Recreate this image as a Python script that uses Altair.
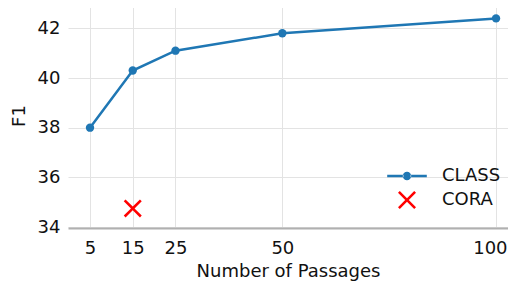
import altair as alt
import pandas as pd

passages = [5, 15, 25, 50, 100]
class_f1 = [38.0, 40.3, 41.1, 41.8, 42.4]
cora_passages = [15]
cora_f1 = [34.75]
series_names = ["CLASS", "CORA"]
series_colors = ["#1f77b4", "#ff0000"]
x_ticks = [5, 15, 25, 50, 100]
y_ticks = [34, 36, 38, 40, 42]

class_df = pd.DataFrame({"passages": passages, "f1": class_f1, "series": ["CLASS"] * len(passages)})
cora_df = pd.DataFrame({"passages": cora_passages, "f1": cora_f1, "series": ["CORA"] * len(cora_passages)})

# filled X glyph and filled "line with dot" glyph (unit box -1..1)
X_POLY = ("M-1,-0.8L-0.8,-1L0,-0.2L0.8,-1L1,-0.8L0.2,0L1,0.8L0.8,1L0,0.2L-0.8,1L-1,0.8L-0.2,0Z")
LINE_DOT = ("M-2.2,-0.14H-0.4V0.14H-2.2Z"
            "M0.4,-0.14H2.2V0.14H0.4Z"
            "M-0.47,0A0.47,0.47 0 1,0 0.47,0A0.47,0.47 0 1,0 -0.47,0Z")
FONT = "DejaVu Sans"
FS = 18

x_enc = alt.X(
    "passages:Q",
    scale=alt.Scale(domain=[-0.15, 102.8], nice=False, zero=False),
    axis=alt.Axis(
        values=x_ticks, title="Number of Passages", grid=True, ticks=False,
        domain=True, domainColor="#b0b0b0", domainWidth=2,
        labelPadding=11, titlePadding=5, labelFlush=15, labelFlushOffset=11,
    ),
)
y_enc = alt.Y(
    "f1:Q",
    scale=alt.Scale(domain=[33.96, 43.02], nice=False, zero=False),
    axis=alt.Axis(
        values=y_ticks, title="F1", grid=True, ticks=False, domain=False,
        labelPadding=8, titlePadding=9,
    ),
)
legend = alt.Legend(
    title=None, orient="none", legendX=330, legendY=164,
    symbolSize=324, labelOffset=26, rowPadding=6, padding=0,
    labelFontSize=FS, labelFont=FONT, labelColor="#111", symbolStrokeWidth=0,
    symbolOpacity=1,
)
color_enc = alt.Color(
    "series:N",
    scale=alt.Scale(domain=series_names, range=series_colors),
    legend=legend,
)
shape_enc = alt.Shape(
    "series:N",
    scale=alt.Scale(domain=series_names, range=[LINE_DOT, X_POLY]),
    legend=legend,
)

line = alt.Chart(class_df).mark_line(color=series_colors[0], strokeWidth=2.5).encode(x=x_enc, y=y_enc)
dots = alt.Chart(class_df).mark_point(shape="circle", filled=True, size=70, opacity=1).encode(
    x=x_enc, y=y_enc, color=color_enc
)
cross = alt.Chart(cora_df).mark_point(filled=True, size=324, opacity=1).encode(
    x=x_enc, y=y_enc, color=color_enc, shape=shape_enc
)

chart = (
    alt.layer(line, dots, cross)
    .properties(width=440, height=225, autosize=alt.AutoSizeParams(type="none"),
                padding={"left": 60, "top": -5, "right": 0, "bottom": 53})
    .configure_view(stroke=None)
    .configure_axis(
        labelFont=FONT, titleFont=FONT, labelFontSize=FS, titleFontSize=FS,
        labelColor="#111", titleColor="#111", titleFontWeight="normal",
        gridColor="#e3e3e3", gridWidth=1,
    )
)

chart.save("out.html", embed_options={"renderer": "svg", "actions": False})
